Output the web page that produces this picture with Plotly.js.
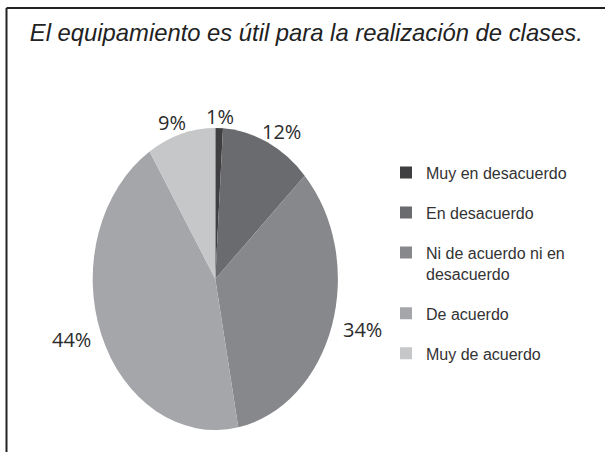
<!DOCTYPE html>
<html>
<head>
<meta charset="utf-8">
<script src="https://cdn.plot.ly/plotly-3.0.1.min.js"></script>
<style>html,body{margin:0;padding:0;background:#fff;}#chart{width:605px;height:452px;}</style>
</head>
<body>
<div id="chart"></div>
<script>
// ---- data ----
var titleText = "El equipamiento es útil para la realización de clases.";
var categories = ["Muy en desacuerdo", "En desacuerdo", "Ni de acuerdo ni en<br>desacuerdo", "De acuerdo", "Muy de acuerdo"];
var values = [1, 12, 34, 44, 9];
var colors = ["#3f3f42", "#6a6b6e", "#87888b", "#a5a6a9", "#c6c7c9"];

// ---- geometry (layout only) ----
var W = 605, H = 452;
var cx = 215.3, cy = 279;      // pie centre in px
var R = 122.6;                 // horizontal radius in px
var K = 151 / 122.6;           // vertical stretch of the (elliptical) pie

var domX = [(cx - R) / W, (cx + R) / W];
var domY = [(H - cy - R) / H, (H - cy + R) / H];

var pie = {
  type: "pie",
  values: values,
  labels: categories,
  marker: {colors: colors, line: {width: 0}},
  sort: false,
  direction: "clockwise",
  rotation: 0,
  textinfo: "none",
  hoverinfo: "none",
  showlegend: false,
  domain: {x: domX, y: domY}
};

// legend entries (one per category, so the gap between entries can be set)
var legendTraces = categories.map(function (c, i) {
  return {
    type: "scatter", mode: "markers",
    x: [null], y: [null],
    name: c, legendgroup: "g" + i,
    marker: {symbol: "square", size: 12, color: colors[i], line: {width: 0}},
    hoverinfo: "none"
  };
});

// percentage labels positioned from the data (mid angle of each slice)
var total = values.reduce(function (a, b) { return a + b; }, 0);
var annotations = [];
var cum = 0;
values.forEach(function (v) {
  var mid = (cum + v / 2) / total * 2 * Math.PI;
  cum += v;
  var ux = Math.sin(mid), uy = -Math.cos(mid);
  var px = cx + R * ux + ux * 32;
  var py = cy + K * R * uy + uy * 12;
  annotations.push({
    xref: "paper", yref: "paper",
    x: px / W, y: 1 - py / H,
    xanchor: "center", yanchor: "middle",
    text: Math.round(v / total * 100) + "%",
    showarrow: false,
    font: {family: "Open Sans, DejaVu Sans, sans-serif", size: 20, color: "#2b2b2b"}
  });
});

var layout = {
  width: W, height: H,
  margin: {l: 0, r: 0, t: 0, b: 0},
  paper_bgcolor: "#fff", plot_bgcolor: "#fff",
  title: {
    text: titleText,
    font: {family: "Liberation Sans, Arial, sans-serif", size: 23.8, color: "#222", style: "italic"},
    x: 306.3 / W, xanchor: "center", xref: "paper",
    y: 1 - 24.3 / H, yanchor: "top", yref: "container"
  },
  xaxis: {visible: false, domain: [0.9, 1]},
  yaxis: {visible: false, domain: [0.9, 1]},
  showlegend: true,
  legend: {
    x: 386 / W, xanchor: "left",
    y: 1 - 155.6 / H, yanchor: "top",
    bgcolor: "rgba(0,0,0,0)",
    font: {family: "Liberation Sans, Arial, sans-serif", size: 16, color: "#333"},
    tracegroupgap: 16.2,
    valign: "top",
    itemclick: false, itemdoubleclick: false
  },
  hovermode: false,
  annotations: annotations,
  shapes: [
    {type: "line", xref: "paper", yref: "paper", x0: 6.5 / W, x1: 1, y0: 1 - 8 / H, y1: 1 - 8 / H, line: {color: "#222", width: 2}},
    {type: "line", xref: "paper", yref: "paper", x0: 6.5 / W, x1: 6.5 / W, y0: 1 - 8 / H, y1: 0, line: {color: "#222", width: 2}}
  ]
};

Plotly.newPlot("chart", [pie].concat(legendTraces), layout, {displayModeBar: false, staticPlot: true}).then(function (gd) {
  var pcx = cx, pcy = cy;
  try {
    var cd = gd.calcdata.filter(function (c) { return c[0].trace.type === "pie"; })[0];
    if (cd && isFinite(cd[0].cx) && isFinite(cd[0].cy)) { pcx = cd[0].cx; pcy = cd[0].cy; }
  } catch (e) {}
  gd.querySelectorAll(".pielayer path.surface").forEach(function (p) {
    p.setAttribute("transform", "translate(" + pcx + "," + pcy + ") scale(1," + K + ") translate(" + (-pcx) + "," + (-pcy) + ")");
  });
});
</script>
</body>
</html>
